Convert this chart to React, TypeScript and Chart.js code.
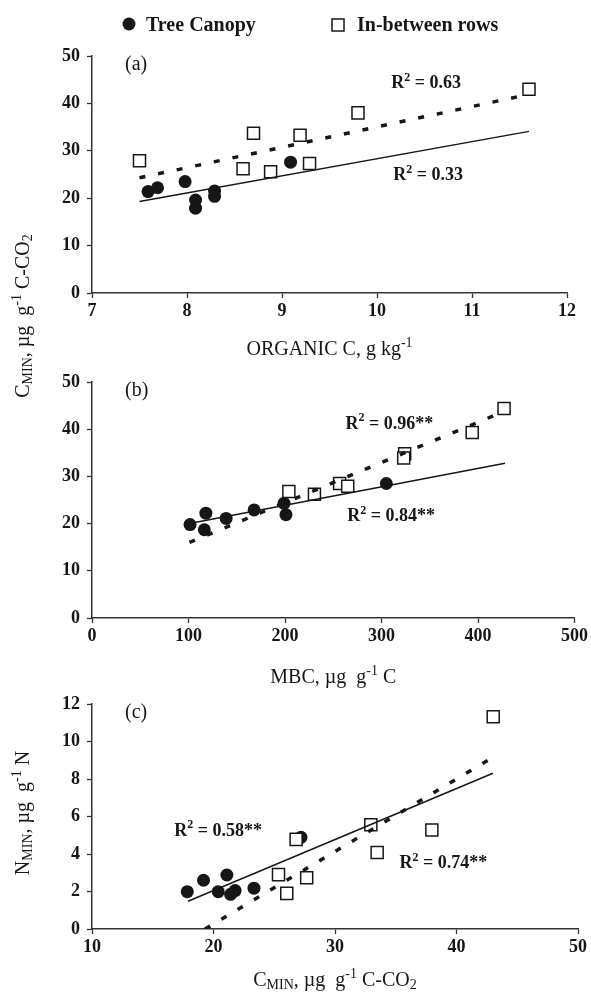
import React, { useEffect, useRef } from 'react';
import { Chart, registerables } from 'chart.js';

Chart.register(...registerables);

const SERIF = '"Liberation Serif", "Times New Roman", serif';
const INK = '#161616';

// ---------- Panel (a): Organic C vs C-min ----------
const canopyOrgC = [7.59, 7.69, 7.98, 8.09, 8.09, 8.29, 8.29, 9.09];
const canopyCminA = [21.4, 22.2, 23.5, 19.6, 17.9, 21.5, 20.4, 27.6];
const betweenOrgC = [7.5, 8.59, 8.7, 8.88, 9.19, 9.29, 9.8, 11.6];
const betweenCminA = [27.9, 26.2, 33.7, 25.6, 33.3, 27.3, 38.0, 43.0];
const canopyFitAx = [7.5, 11.6];
const canopyFitAy = [19.3, 34.1];
const betweenFitAx = [7.5, 11.55];
const betweenFitAy = [24.3, 41.7];
const r2A = ['0.63', '0.33'];

// ---------- Panel (b): MBC vs C-min ----------
const canopyMbc = [101.6, 118, 116.4, 139, 168, 199, 201, 305];
const canopyCminB = [19.8, 22.2, 18.7, 21.1, 22.9, 24.3, 21.9, 28.5];
const betweenMbc = [204, 230.5, 256.6, 265, 324, 323, 394, 427];
const betweenCminB = [26.8, 26.2, 28.5, 27.9, 34.8, 33.9, 39.3, 44.4];
const canopyFitBx = [101, 428];
const canopyFitBy = [20.0, 32.8];
const betweenFitBx = [101, 425];
const betweenFitBy = [16.0, 43.6];
const r2B = ['0.96**', '0.84**'];

// ---------- Panel (c): C-min vs N-min ----------
const canopyCminC = [17.84, 19.18, 20.39, 21.1, 21.41, 21.78, 23.33, 27.2];
const canopyNmin = [1.99, 2.6, 1.99, 2.88, 1.85, 2.05, 2.18, 4.89];
const betweenCminC = [26.8, 25.35, 26.03, 27.67, 32.95, 33.47, 37.97, 43.02];
const betweenNmin = [4.78, 2.9, 1.9, 2.73, 5.56, 4.08, 5.28, 11.32];
const canopyFitCx = [17.9, 43.0];
const canopyFitCy = [1.48, 8.31];
const betweenFitCx = [19.3, 42.6];
const betweenFitCy = [0, 9.0];
const r2C = ['0.58**', '0.74**'];

const legendLabels = ['Tree Canopy', 'In-between rows'];

type Run = { t: string; k?: 'sup' | 'sub' };

const zip = (xs: number[], ys: number[]) => xs.map((x, i) => ({ x, y: ys[i] }));

function drawRich(
  ctx: CanvasRenderingContext2D,
  runs: Run[],
  x: number,
  y: number,
  size: number,
  bold: boolean,
  align: 'left' | 'center',
  rotate = false
) {
  ctx.save();
  ctx.translate(x, y);
  if (rotate) ctx.rotate(-Math.PI / 2);
  const w = bold ? 'bold ' : '';
  const fontFor = (r: Run) => `${w}${r.k ? Math.round(size * 0.68) : size}px ${SERIF}`;
  let total = 0;
  const widths = runs.map((r) => {
    ctx.font = fontFor(r);
    const m = ctx.measureText(r.t).width;
    total += m;
    return m;
  });
  let cx = align === 'center' ? -total / 2 : 0;
  ctx.textAlign = 'left';
  ctx.textBaseline = 'alphabetic';
  ctx.fillStyle = INK;
  runs.forEach((r, i) => {
    ctx.font = fontFor(r);
    const dy = r.k === 'sup' ? -size * 0.4 : r.k === 'sub' ? size * 0.14 : 0;
    ctx.fillText(r.t, cx, dy);
    cx += widths[i];
  });
  ctx.restore();
}

function r2Label(chart: any, xv: number, yv: number, txt: string) {
  const px = chart.scales.x.getPixelForValue(xv);
  const py = chart.scales.y.getPixelForValue(yv);
  drawRich(chart.ctx, [{ t: 'R' }, { t: '2', k: 'sup' }, { t: ' = ' + txt }], px, py + 6, 18, true, 'left');
}

function panelTag(chart: any, tag: string) {
  const ctx = chart.ctx as CanvasRenderingContext2D;
  const a = chart.chartArea;
  ctx.save();
  ctx.font = `20px ${SERIF}`;
  ctx.fillStyle = INK;
  ctx.textAlign = 'left';
  ctx.textBaseline = 'alphabetic';
  ctx.fillText(tag, a.left + 33, a.top + 14);
  ctx.restore();
}

function xTitle(chart: any, runs: Run[], dy: number) {
  const a = chart.chartArea;
  drawRich(chart.ctx, runs, (a.left + a.right) / 2, a.bottom + dy, 20, false, 'center');
}

const cminRuns: Run[] = [
  { t: 'C' },
  { t: 'MIN', k: 'sub' },
  { t: ', µg  g' },
  { t: '-1', k: 'sup' },
  { t: ' C-CO' },
  { t: '2', k: 'sub' },
];

function buildPanel(
  canvas: HTMLCanvasElement,
  canopy: { x: number; y: number }[],
  between: { x: number; y: number }[],
  canopyFit: { x: number; y: number }[],
  betweenFit: { x: number; y: number }[],
  xr: [number, number, number],
  yr: [number, number, number],
  pad: { left: number; right: number; top: number; bottom: number },
  draw: (chart: any) => void
) {
  const tickFont = { family: SERIF, size: 18, weight: 'bold' as const };
  const axisCommon = {
    type: 'linear' as const,
    grid: {
      display: true,
      drawOnChartArea: false,
      drawTicks: true,
      tickLength: 5,
      tickColor: '#333',
      tickWidth: 1.3,
      color: '#333',
    },
    border: { display: true, color: '#333', width: 1.5 },
  };
  return new Chart(canvas, {
    type: 'scatter',
    data: {
      datasets: [
        {
          label: 'between fit',
          data: betweenFit,
          showLine: true,
          borderColor: INK,
          borderWidth: 3.5,
          borderDash: [6, 13],
          pointRadius: 0,
          fill: false,
        } as any,
        {
          label: 'canopy fit',
          data: canopyFit,
          showLine: true,
          borderColor: INK,
          borderWidth: 1.5,
          pointRadius: 0,
          fill: false,
        },
        {
          label: legendLabels[1],
          data: between,
          pointStyle: 'rect',
          pointRadius: 8.5,
          backgroundColor: '#ffffff',
          borderColor: INK,
          borderWidth: 1.5,
        },
        {
          label: legendLabels[0],
          data: canopy,
          pointStyle: 'circle',
          pointRadius: 6.5,
          backgroundColor: INK,
          borderColor: INK,
          borderWidth: 0,
        },
      ],
    },
    options: {
      responsive: false,
      animation: false,
      devicePixelRatio: 1,
      events: [],
      layout: { padding: pad },
      plugins: { legend: { display: false }, tooltip: { enabled: false }, title: { display: false } },
      scales: {
        x: {
          ...axisCommon,
          min: xr[0],
          max: xr[1],
          ticks: { stepSize: xr[2], font: tickFont, color: INK, padding: 3, maxRotation: 0, autoSkip: false },
          afterFit: (s: any) => {
            s.height = 40;
          },
        },
        y: {
          ...axisCommon,
          min: yr[0],
          max: yr[1],
          ticks: { stepSize: yr[2], font: tickFont, color: INK, padding: 7, autoSkip: false },
          afterFit: (s: any) => {
            s.width = 40;
          },
        },
      },
    },
    plugins: [{ id: 'overlay', afterDraw: (chart: any) => draw(chart) }],
  });
}

export default function App() {
  const refA = useRef<HTMLCanvasElement>(null);
  const refB = useRef<HTMLCanvasElement>(null);
  const refC = useRef<HTMLCanvasElement>(null);

  useEffect(() => {
    const ca = buildPanel(
      refA.current!,
      zip(canopyOrgC, canopyCminA),
      zip(betweenOrgC, betweenCminA),
      zip(canopyFitAx, canopyFitAy),
      zip(betweenFitAx, betweenFitAy),
      [7, 12, 1],
      [0, 50, 10],
      { left: 52, right: 24, top: 56, bottom: 659 },
      (chart) => {
        const ctx = chart.ctx as CanvasRenderingContext2D;
        // legend
        ctx.save();
        ctx.fillStyle = INK;
        ctx.beginPath();
        ctx.arc(129, 24, 6.5, 0, Math.PI * 2);
        ctx.fill();
        ctx.strokeStyle = INK;
        ctx.lineWidth = 1.5;
        ctx.fillStyle = '#fff';
        ctx.fillRect(332, 19, 12, 12);
        ctx.strokeRect(332, 19, 12, 12);
        ctx.fillStyle = INK;
        ctx.font = `bold 20px ${SERIF}`;
        ctx.textBaseline = 'alphabetic';
        ctx.fillText(legendLabels[0], 146, 31);
        ctx.fillText(legendLabels[1], 357, 31);
        ctx.restore();
        panelTag(chart, '(a)');
        r2Label(chart, 10.15, 44.5, r2A[0]);
        r2Label(chart, 10.17, 25.1, r2A[1]);
        xTitle(chart, [{ t: 'ORGANIC C, g kg' }, { t: '-1', k: 'sup' }], 62);
        // shared y title for (a) and (b)
        drawRich(ctx, cminRuns, 29, 316, 20, false, 'center', true);
      }
    );
    const cb = buildPanel(
      refB.current!,
      zip(canopyMbc, canopyCminB),
      zip(betweenMbc, betweenCminB),
      zip(canopyFitBx, canopyFitBy),
      zip(betweenFitBx, betweenFitBy),
      [0, 500, 100],
      [0, 50, 10],
      { left: 52, right: 14, top: 382, bottom: 334 },
      (chart) => {
        panelTag(chart, '(b)');
        r2Label(chart, 262.6, 41.4, r2B[0]);
        r2Label(chart, 264.6, 21.8, r2B[1]);
        xTitle(chart, [{ t: 'MBC, µg  g' }, { t: '-1', k: 'sup' }, { t: ' C' }], 65);
      }
    );
    const cc = buildPanel(
      refC.current!,
      zip(canopyCminC, canopyNmin),
      zip(betweenCminC, betweenNmin),
      zip(canopyFitCx, canopyFitCy),
      zip(betweenFitCx, betweenFitCy),
      [10, 50, 10],
      [0, 12, 2],
      { left: 52, right: 13, top: 704, bottom: 23 },
      (chart) => {
        const ctx = chart.ctx as CanvasRenderingContext2D;
        panelTag(chart, '(c)');
        r2Label(chart, 16.76, 5.3, r2C[0]);
        r2Label(chart, 35.3, 3.56, r2C[1]);
        xTitle(chart, cminRuns, 57);
        drawRich(
          ctx,
          [{ t: 'N' }, { t: 'MIN', k: 'sub' }, { t: ', µg  g' }, { t: '-1', k: 'sup' }, { t: ' N' }],
          29,
          813,
          20,
          false,
          'center',
          true
        );
      }
    );
    return () => {
      ca.destroy();
      cb.destroy();
      cc.destroy();
    };
  }, []);

  const cs: React.CSSProperties = { position: 'absolute', left: 0, top: 0 };
  return (
    <div style={{ position: 'absolute', left: 0, top: 0, width: 591, height: 992, background: '#fff' }}>
      <canvas ref={refA} width={591} height={992} style={cs} />
      <canvas ref={refB} width={591} height={992} style={cs} />
      <canvas ref={refC} width={591} height={992} style={cs} />
    </div>
  );
}
